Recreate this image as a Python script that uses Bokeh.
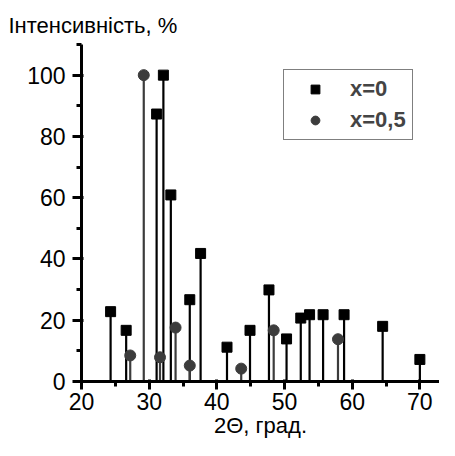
from bokeh.plotting import figure
from bokeh.models import ColumnDataSource, FixedTicker, Legend, LegendItem, Title, Range1d
from bokeh.embed import file_html
from bokeh.resources import INLINE

# x=0 series (squares)
sq_x = [24.3, 26.6, 31.1, 32.1, 33.2, 36.0, 37.6, 41.5, 44.9, 47.7, 50.3, 52.4, 53.7, 55.7, 58.8, 64.5, 70.0]
sq_y = [22.8, 16.7, 87.3, 100.0, 60.9, 26.7, 41.8, 11.2, 16.7, 29.9, 13.9, 20.7, 21.8, 21.8, 21.8, 18.0, 7.2]
# x=0,5 series (circles)
ci_x = [27.2, 29.2, 31.6, 33.9, 36.0, 43.6, 48.4, 57.9]
ci_y = [8.5, 100.0, 7.9, 17.6, 5.2, 4.2, 16.7, 13.8]

x_ticks = [20, 30, 40, 50, 60, 70]
x_minor = [25, 35, 45, 55, 65, 75]
y_ticks = [0, 20, 40, 60, 80, 100]
y_minor = [10, 30, 50, 70, 90, 110]

FONT = "Liberation Sans"
GRAY = "#3c3c3c"

p = figure(width=439, height=440, output_backend="svg", toolbar_location=None,
           x_range=Range1d(20, 72.9), y_range=Range1d(0, 110),
           min_border_left=81, min_border_right=0, min_border_top=44, min_border_bottom=58)
p.title = None
p.outline_line_color = None
p.xgrid.visible = False
p.ygrid.visible = False

sq_src = ColumnDataSource(dict(x=sq_x, y=sq_y, z=[0] * len(sq_x)))
ci_src = ColumnDataSource(dict(x=ci_x, y=ci_y, z=[0] * len(ci_x)))

p.segment(x0="x", y0="z", x1="x", y1="y", source=sq_src, line_color="black", line_width=2.2)
p.segment(x0="x", y0="z", x1="x", y1="y", source=ci_src, line_color=GRAY, line_width=2.2)
r_sq = p.scatter("x", "y", source=sq_src, marker="square", size=10, fill_color="black", line_color="black")
r_ci = p.scatter("x", "y", source=ci_src, marker="circle", size=11, fill_color=GRAY, line_color=GRAY)

for ax, t, m in ((p.xaxis[0], x_ticks, x_minor), (p.yaxis[0], y_ticks, y_minor)):
    ax.ticker = FixedTicker(ticks=t, minor_ticks=m)
    ax.axis_line_width = 3
    ax.major_tick_line_width = 3
    ax.minor_tick_line_width = 3
    ax.major_tick_in = 2
    ax.minor_tick_out = 5
    ax.minor_tick_in = 0
    ax.major_label_text_font = FONT
    ax.major_label_text_font_size = "23px"
    ax.major_label_text_color = "black"
    ax.axis_label_text_font = FONT
    ax.axis_label_text_font_size = "22px"
    ax.axis_label_text_font_style = "normal"
    ax.axis_label_text_color = "black"

p.xaxis[0].axis_label = "2Θ, град."
p.xaxis[0].major_tick_out = 8
p.xaxis[0].major_label_standoff = 3
p.xaxis[0].axis_label_standoff = 0
p.yaxis[0].major_tick_out = 9
p.yaxis[0].major_label_standoff = 7

t = Title(text="Інтенсивність, %", align="left", offset=-73, text_font=FONT,
          text_font_size="22px", text_font_style="normal", text_color="black", standoff=14)
p.add_layout(t, "above")

legend = Legend(items=[LegendItem(label="x=0", renderers=[r_sq]),
                       LegendItem(label="x=0,5", renderers=[r_ci])],
                location=(202, 241), margin=0, padding=6, spacing=5,
                glyph_width=50, glyph_height=22, label_height=22, label_standoff=10,
                label_text_font=FONT, label_text_font_size="22px", label_text_font_style="bold",
                border_line_color="black", border_line_width=1.5, background_fill_alpha=1)
p.add_layout(legend, "center")

open("out.html", "w").write(file_html(p, INLINE))
